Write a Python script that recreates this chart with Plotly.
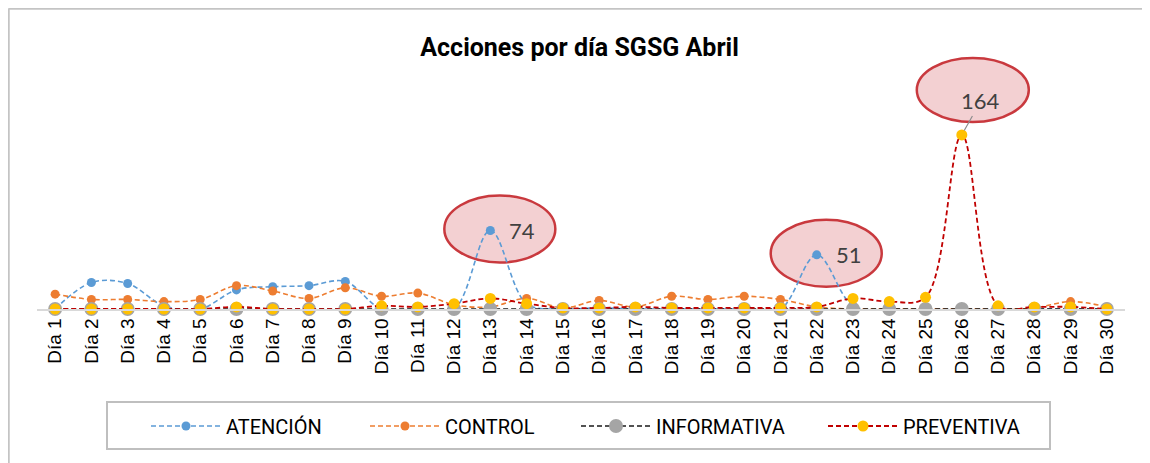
import plotly.graph_objects as go

days = list(range(1, 31))
day_labels = [f"Día {d}" for d in days]

atencion = [0, 25, 24, 3, 0, 18, 21, 22, 26, 0, 0, 0, 74, 5, 0, 1, 0, 0, 0, 0, 0, 51, 3, 0, 0, 0, 0, 0, 0, 0]
control = [14, 9, 9, 7, 9, 22, 17, 10, 20, 12, 15, 4, 2, 10, 1, 8, 2, 12, 9, 12, 9, 2, 0, 0, 0, 0, 0, 1, 7, 2]
informativa = [0, 0, 0, 0, 0, 0, 0, 0, 0, 0, 0, 0, 0, 0, 0, 0, 0, 0, 0, 0, 0, 0, 0, 0, 0, 0, 0, 0, 0, 0]
preventiva = [0, 0, 0, 0, 0, 2, 0, 0, 0, 3, 2, 5, 10, 5, 1, 1, 2, 1, 1, 1, 1, 2, 10, 7, 11, 164, 3, 2, 2, 0]

series_names = ["ATENCIÓN", "CONTROL", "INFORMATIVA", "PREVENTIVA"]
callouts = [("ATENCIÓN", 13), ("ATENCIÓN", 22), ("PREVENTIVA", 26)]

narrow = "Liberation Sans Narrow, Roboto, sans-serif"

# layout geometry (figure pixels; the page adds an 8px body offset)
L, R, T, B = 29, 33, 42, 162
PW, PH = 1150 - L - R, 463 - T - B


def px_x(fx):
    return (fx - L) / PW


def px_y(fy):
    return (463 - B - fy) / PH


fig = go.Figure()
styles = [
    dict(line=dict(color="#5B9BD5", width=1.6, dash="5px,3px", shape="spline", smoothing=1),
         marker=dict(color="#5B9BD5", size=9), legendwidth=134),
    dict(line=dict(color="#ED7D31", width=1.6, dash="5px,3px", shape="spline", smoothing=1),
         marker=dict(color="#ED7D31", size=9), legendwidth=126),
    dict(line=dict(color="#1a1a1a", width=1.6, dash="5px,3px", shape="spline", smoothing=1),
         marker=dict(color="#A5A5A5", size=14), legendwidth=162),
    dict(line=dict(color="#C00000", width=1.8, dash="5px,3px", shape="spline", smoothing=1),
         marker=dict(color="#FFC000", size=11), legendwidth=130),
]
data = [atencion, control, informativa, preventiva]
for name, vals, st in zip(series_names, data, styles):
    fig.add_trace(go.Scatter(x=days, y=vals, name=name, mode="lines+markers",
                             cliponaxis=False, **st))

series_map = dict(zip(series_names, data))
shapes = []
annotations = []
for sname, d in callouts:
    v = series_map[sname][d - 1]
    if v > 100:
        ox0, ox1, oy0, oy1 = -45, 67, 13, 77
        tx, ty = 19, 34
    else:
        ox0, ox1, oy0, oy1 = -46, 65, -32, 35
        tx, ty = 32, 0
    shapes.append(dict(type="circle", xref="x", yref="y", xsizemode="pixel", ysizemode="pixel",
                       xanchor=d, yanchor=v, x0=ox0, x1=ox1, y0=oy0, y1=oy1,
                       fillcolor="#F3D0D2", line=dict(color="#C9393E", width=2.5), layer="below"))
    if v > 100:
        annotations.append(dict(x=d, y=v, xref="x", yref="y", text=str(v), showarrow=True,
                                ax=tx, ay=-ty, arrowhead=0, arrowwidth=1.2, arrowcolor="#8c8c8c",
                                standoff=5, font=dict(family="Lato, sans-serif", size=22, color="#404040")))
    else:
        annotations.append(dict(x=d, y=v, xref="x", yref="y", text=str(v), showarrow=False,
                                xshift=tx, yshift=ty,
                                font=dict(family="Lato, sans-serif", size=22, color="#404040")))

# outer chart border (left and top edges)
shapes.append(dict(type="line", xref="paper", yref="paper", x0=px_x(0.5), x1=px_x(0.5), y0=px_y(470), y1=px_y(0.5),
                   line=dict(color="#C4C4C4", width=2.5)))
shapes.append(dict(type="line", xref="paper", yref="paper", x0=px_x(0.5), x1=px_x(1150), y0=px_y(0.5), y1=px_y(0.5),
                   line=dict(color="#C4C4C4", width=2.5)))
# legend frame
shapes.append(dict(type="rect", xref="paper", yref="paper", x0=px_x(99), x1=px_x(1042), y0=px_y(441), y1=px_y(394),
                   line=dict(color="#BFBFBF", width=2), fillcolor="rgba(0,0,0,0)"))

fig.update_layout(
    width=1150, height=463,
    margin=dict(l=L, r=R, t=T, b=B, autoexpand=False),
    paper_bgcolor="white", plot_bgcolor="white",
    title=dict(text="<b>Acciones por día SGSG Abril</b>", x=0.497, xanchor="center",
               y=1 - 39/463, yanchor="middle", yref="container",
               font=dict(family=narrow, size=25, color="#000000")),
    xaxis=dict(range=[0.5, 30.5], tickvals=days, ticktext=day_labels, tickangle=-90,
               showgrid=False, zeroline=False, showline=True, linecolor="#D9D9D9", linewidth=1.5,
               ticks="", automargin=False,
               tickfont=dict(family="Liberation Sans, Arial, sans-serif", size=19, color="#000")),
    yaxis=dict(range=[0, 244], visible=False, showgrid=False, zeroline=False),
    legend=dict(orientation="h", x=px_x(138), xanchor="left", y=px_y(418), yanchor="middle",
                borderwidth=0, itemwidth=70, bgcolor="rgba(0,0,0,0)",
                font=dict(family=narrow, size=20, color="#000")),
    shapes=shapes,
    annotations=annotations,
)

fig.write_html("out.html")
